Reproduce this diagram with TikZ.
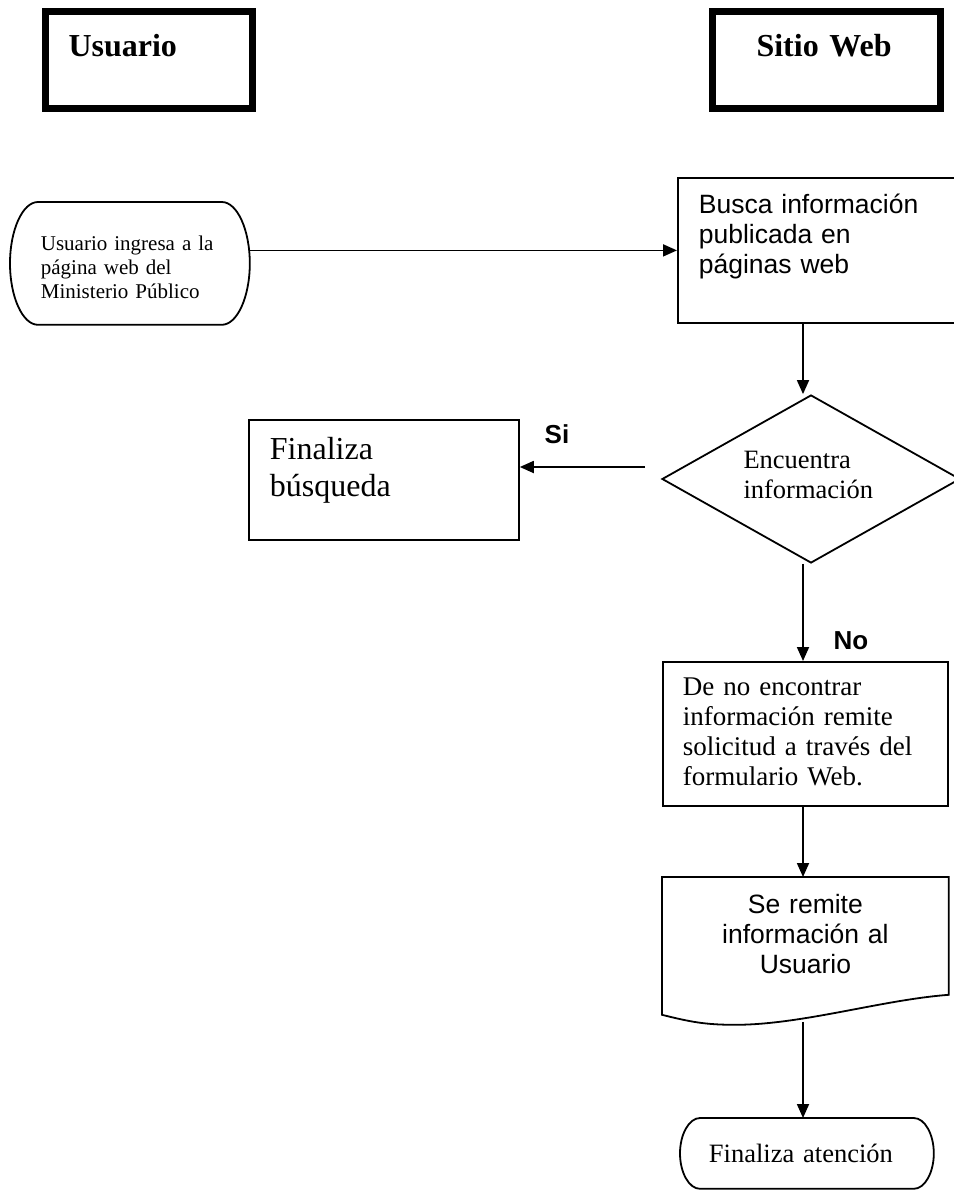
\documentclass[tikz,border=0pt]{standalone}
\usepackage{fontspec}
\setmainfont{Liberation Serif}
\setsansfont{Liberation Sans}
\usetikzlibrary{arrows.meta,calc,shapes.geometric}

% contorno de terminador (extremos elipticos)
\newcommand{\terminador}[3]{%
  \draw[line width=1.8pt] ([xshift=#2]#1.north west) -- ([xshift=-#2]#1.north east)
    .. controls ([xshift=-0.4477*#2]#1.north east) and ([yshift=0.5523*#3]#1.east) .. (#1.east)
    .. controls ([yshift=-0.5523*#3]#1.east) and ([xshift=-0.4477*#2]#1.south east) .. ([xshift=-#2]#1.south east)
    -- ([xshift=#2]#1.south west)
    .. controls ([xshift=0.4477*#2]#1.south west) and ([yshift=-0.5523*#3]#1.west) .. (#1.west)
    .. controls ([yshift=0.5523*#3]#1.west) and ([xshift=0.4477*#2]#1.north west) .. cycle;}

\begin{document}
\begin{tikzpicture}[>={Triangle[length=14pt,width=12pt]}, x=1pt, y=-1pt,
    linea/.style={line width=1.8pt},
    caja/.style={linea, anchor=north west, inner ysep=0pt, align=left},
    cabecera/.style={draw, line width=7pt, anchor=north west, inner ysep=0pt, align=left,
      text height=44.5pt, text depth=52.5pt, font=\bfseries\fontsize{32}{36}\selectfont},
    serif/.style={font=\fontsize{27}{30}\selectfont},
    sans/.style={font=\sffamily\fontsize{26.5}{30}\selectfont},
    etiqueta/.style={font=\sffamily\bfseries\fontsize{26}{30}\selectfont, inner sep=0pt}]
    \useasboundingbox (0,0) rectangle (953,1190);

    % encabezados
    \node[cabecera, inner xsep=23.5pt, text width=160pt] (usuario) at (41.5,8.5) {Usuario};
    \node[cabecera, inner xsep=44.5pt, text width=139pt] (sitio) at (708.5,8.5) {Sitio~Web};

    \coordinate (eje) at (803,0);

    % nodos
    \node[caja, font=\fontsize{21}{24}\selectfont, inner xsep=30pt, text width=178pt,
      text height=48pt, text depth=73pt] (inicio) at (10,202)
      {Usuario ingresa a la\\página web del\\Ministerio Público};
    \terminador{inicio}{28pt}{60.5pt}
    \node[caja, draw, sans, inner xsep=21pt, text width=237pt,
      text height=36pt, text depth=109pt] (busca) at (677,177)
      {Busca información\\publicada en\\páginas web};
    \node[diamond, draw, linea, shape aspect=1.77, minimum width=298pt, minimum height=168pt,
      inner sep=0pt, align=left, text width=135pt, text height=20pt, text depth=42pt,
      font=\fontsize{26.5}{30}\selectfont] (encuentra) at (811,479) {Encuentra\\información};
    \node[caja, draw, font=\fontsize{32}{36.5}\selectfont, inner xsep=21pt, text width=228pt,
      text height=40pt, text depth=80pt] (finaliza) at (248,419) {Finaliza\\búsqueda};
    \node[caja, draw, serif, inner xsep=20pt, text width=245pt,
      text height=34pt, text depth=110pt] (remite) at (662,661)
      {De no encontrar\\información remite\\solicitud a través del\\formulario Web.};
    \node[caja, sans, align=center, inner xsep=10pt, text width=265pt,
      text height=36pt, text depth=100pt] (documento) at (662,877)
      {Se remite\\información al\\Usuario};
    \draw[linea] (documento.south west) -- (documento.north west) -- (documento.north east)
      -- ([yshift=20pt]documento.south east)
      .. controls ($(documento.south east)+(-67,-15)$) and ($(documento.south west)+(140,10)$) .. ($(documento.south west)+(73,10)$)
      .. controls ($(documento.south west)+(43,10)$) and ($(documento.south west)+(28,7)$) .. cycle;
    \node[caja, font=\fontsize{26.5}{30}\selectfont, inner xsep=28pt, text width=196pt,
      text height=44pt, text depth=25pt] (fin) at (680,1118) {Finaliza atención};
    \terminador{fin}{20pt}{34.5pt}

    \node[etiqueta] (si) at (557,434) {Si};
    \node[etiqueta] (no) at (851,641) {No};

    % conectores
    \draw[linea,->] (inicio.east |- busca.west) -- (busca.west);
    \draw[linea,->] (busca.south -| eje) -- (encuentra.north -| eje);
    \coordinate (siIni) at ($(encuentra.west)+(-16,-12)$);
    \draw[linea,->] (siIni) -- (siIni -| finaliza.east);
    \draw[linea,->] (encuentra.south -| eje) -- (remite.north -| eje);
    \draw[linea,->] (remite.south -| eje) -- (documento.north -| eje);
    \coordinate (docFin) at ($(documento.south -| eje)+(0,7)$);
    \draw[linea,->] (docFin) -- (fin.north -| eje);
\end{tikzpicture}
\end{document}
